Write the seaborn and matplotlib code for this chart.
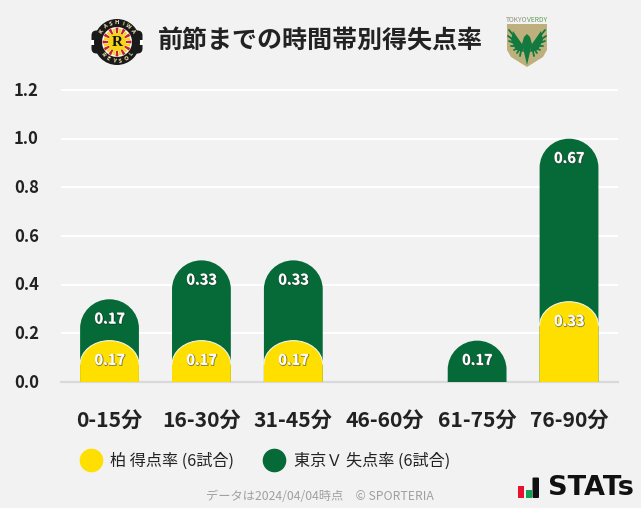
#! /usr/bin/env python3

import matplotlib
matplotlib.use('Agg')

import matplotlib.pyplot as plt
import matplotlib.patheffects as pe
import numpy as np
import pandas as pd
import seaborn as sns
from matplotlib.lines import Line2D
from matplotlib.patches import Circle, FancyBboxPatch, PathPatch, Polygon, Rectangle, Wedge
from matplotlib.path import Path
from matplotlib.transforms import ScaledTranslation

periods = ['0-15分', '16-30分', '31-45分', '46-60分', '61-75分', '76-90分']
kashiwa_rate = [0.17, 0.17, 0.17, 0.0, 0.0, 0.33]
verdy_rate = [0.17, 0.33, 0.33, 0.0, 0.17, 0.67]
y_ticks = [0.0, 0.2, 0.4, 0.6, 0.8, 1.0, 1.2]

title = '前節までの時間帯別得失点率'
kashiwa_label = '柏 得点率 (6試合)'
verdy_label = '東京Ｖ 失点率 (6試合)'
footer = 'データは2024/04/04時点　© SPORTERIA'

YELLOW = '#ffdf00'
GREEN = '#066a38'
BG = '#f2f2f2'
INK = '#222222'
W, H = 641, 508

sns.set_theme(style='white')
plt.rcParams['font.family'] = ['Noto Sans CJK JP', 'DejaVu Sans']

data = pd.DataFrame({'period': periods, 'kashiwa': kashiwa_rate, 'verdy': verdy_rate})
data['total'] = data['kashiwa'] + data['verdy']

fig = plt.figure(figsize=(W / 100, H / 100), dpi=100, facecolor=BG)
ax = fig.add_axes([61 / W, 1 - 382 / H, 557 / W, 302 / H], facecolor=BG)

sns.barplot(data=data, x='period', y='total', color=GREEN, width=0.64,
            saturation=1, ax=ax, zorder=3)
n_green = len(ax.patches)
sns.barplot(data=data, x='period', y='kashiwa', color=YELLOW, width=0.64,
            saturation=1, ax=ax, zorder=4)

ax.set_xlim(-0.528, 5.533)
ax.set_ylim(0, 302 / 243.3)
ax.set_xlabel('')
ax.set_ylabel('')
ax.set_yticks(y_ticks, [f'{t:.1f}' for t in y_ticks])
ax.grid(axis='y', color='white', lw=1.5, zorder=1)
ax.set_axisbelow(True)
for side in ['top', 'left', 'right']:
    ax.spines[side].set_visible(False)
ax.spines['bottom'].set_color('#d9d9d9')
ax.spines['bottom'].set_linewidth(1.6)
ax.spines['bottom'].set_zorder(2)
ax.tick_params(axis='y', length=0, pad=16, labelsize=12, labelcolor=INK)
ax.tick_params(axis='x', length=0, pad=20.3, labelsize=15.2, labelcolor=INK)
for t in ax.get_xticklabels() + ax.get_yticklabels():
    t.set_fontweight('bold')
for t in ax.get_yticklabels():
    t.set_transform(t.get_transform() + ScaledTranslation(0, 1.5 / 100, fig.dpi_scale_trans))

# the rectangles seaborn made are swapped for domed shapes of the same size
k = 0.5523


def dome(bar, cap_px):
    x0, w, h = bar.get_x(), bar.get_width(), bar.get_height()
    x1, xm = x0 + w, x0 + w / 2
    cap = cap_px / 243.3
    arc = [(x0, h - cap), (x0, h - cap + k * cap), (xm - k * w / 2, h), (xm, h),
           (xm + k * w / 2, h), (x1, h - cap + k * cap), (x1, h - cap)]
    arc_codes = [Path.MOVETO] + [Path.CURVE4] * 6
    full = Path([(x0, 0)] + arc + [(x1, 0), (x0, 0)],
                [Path.MOVETO, Path.LINETO] + [Path.CURVE4] * 6 + [Path.LINETO, Path.CLOSEPOLY])
    return full, Path(arc, arc_codes)


for i, bar in enumerate(ax.patches[:]):
    bar.set_visible(False)
    if bar.get_height() <= 0:
        continue
    full, arc = dome(bar, 24 if i >= n_green else 29)
    ax.add_patch(PathPatch(full, fc=bar.get_facecolor(), ec='none', zorder=bar.get_zorder()))
    if i >= n_green:
        ax.add_patch(PathPatch(arc, fc='none', ec='#f4f6e8', lw=0.8, zorder=5))

label_fx = [pe.Stroke(linewidth=0.8, foreground='#00000070', offset=(0.5, -0.5)), pe.Normal()]
for i in range(len(periods)):
    for top, val in [(data['total'][i], verdy_rate[i]), (kashiwa_rate[i], kashiwa_rate[i])]:
        if val > 0:
            ax.annotate(f'{val:.2f}', (i, top), xytext=(0, -13.7),
                        textcoords='offset points', ha='center', va='center',
                        color='white', fontsize=10.5, fontweight='bold',
                        path_effects=label_fx, zorder=6)

handles = [Line2D([], [], ls='', marker='o', ms=16, color=YELLOW, label=kashiwa_label),
           Line2D([], [], ls='', marker='o', ms=16, color=GREEN, label=verdy_label)]
fig.legend(handles=handles, ncols=2, frameon=False, loc='center left',
           bbox_to_anchor=(68 / W, 1 - 461.5 / H), fontsize=11.6, labelcolor=INK,
           handletextpad=0.23, columnspacing=1.47, borderaxespad=0)

fig.text(320 / W, 1 - 41 / H, title, ha='center', va='center', fontsize=18,
         fontweight='bold', color=INK)
fig.text(320 / W, 1 - 497 / H, footer, ha='center', va='center', fontsize=8.8,
         color='#a0a0a0')

# overlay in pixel coordinates for the crests and the logo
deco = fig.add_axes([0, 0, 1, 1], facecolor='none')
deco.set_xlim(0, W)
deco.set_ylim(H, 0)
deco.axis('off')

# Kashiwa crest
cx, cy = 117, 42
deco.add_patch(FancyBboxPatch((cx - 22, cy - 8), 44, 16, boxstyle='round,pad=3.5,rounding_size=5',
                              fc='#1a1a1a', ec='none'))
deco.add_patch(Rectangle((cx - 26, cy - 2.5), 52, 5, fc='white', ec='none'))
deco.add_patch(Circle((cx, cy), 23, fc='#1a1a1a', ec='none'))
deco.add_patch(Circle((cx, cy), 15, fc='white', ec='none'))
for a in np.arange(0, 360, 30):
    deco.add_patch(Wedge((cx, cy), 14.5, a - 6, a + 6, fc='#c8202c', ec='none'))
    deco.add_patch(Wedge((cx, cy), 13.5, a + 9, a + 21, fc='#f7d417', ec='none'))
deco.add_patch(Circle((cx, cy), 9, fc='#f7d417', ec='none'))
deco.text(cx, cy, 'R', ha='center', va='center', fontsize=11, fontweight='bold',
          family='Liberation Serif', color='#111111')
for word, start, stop, r in [('KASHIWA', 145, 35, 19), ('REYSOL', 220, 320, 19)]:
    for ch, a in zip(word, np.linspace(start, stop, len(word))):
        rad = np.deg2rad(a)
        rot = a - 90 if a < 180 else a + 90
        deco.text(cx + r * np.cos(rad), cy - r * np.sin(rad), ch, ha='center', va='center',
                  fontsize=4.2, fontweight='bold', color='#f5ecb0', rotation=rot)

# Verdy shield
deco.text(527, 20, 'TOKYO', ha='right', va='center', fontsize=4.8, color='#8f8f78')
deco.text(527, 20, 'VERDY', ha='left', va='center', fontsize=4.8, color='#5c9a50')
deco.add_patch(Polygon([(507, 24), (547, 24), (547, 50), (543, 57), (527, 67), (511, 57), (507, 50)],
                       fc='#bdb07c', ec='none'))
eagle_green = '#12793f'
for tx, ty in [(509, 30), (508, 36), (509, 41), (511, 46), (514, 50), (517, 53), (520, 56)]:
    for side in (-1, 1):
        deco.plot([527 + side * 5, 527 + side * (527 - tx)], [46, ty], color=eagle_green,
                  lw=1.3, solid_capstyle='round')
for side in (-1, 1):
    deco.add_patch(Polygon([(527 + side * 5, 44), (527 + side * 14, 31), (527 + side * 16, 40),
                            (527 + side * 11, 50), (527 + side * 3, 52)], fc=eagle_green, ec='none'))
deco.add_patch(Polygon([(527, 65), (524, 52), (522, 44), (524, 37), (527, 34), (530, 37),
                        (532, 44), (530, 52)], fc=eagle_green, ec='none'))

# STATs logo
deco.add_patch(Rectangle((518, 486), 6, 11.5, fc='#e8112d', ec='none'))
deco.add_patch(Rectangle((526, 490), 6, 7.5, fc='#12a150', ec='none'))
deco.add_patch(FancyBboxPatch((533, 478), 5.5, 19.5, boxstyle='round,pad=0.5,rounding_size=1',
                              fc='#111111', ec='none'))
deco.text(547.5, 488, 'STATs', ha='left', va='center', fontsize=19.5, fontweight='bold',
          family='DejaVu Sans', color='#111111')

fig.savefig('out.png', dpi=100, facecolor=BG)
